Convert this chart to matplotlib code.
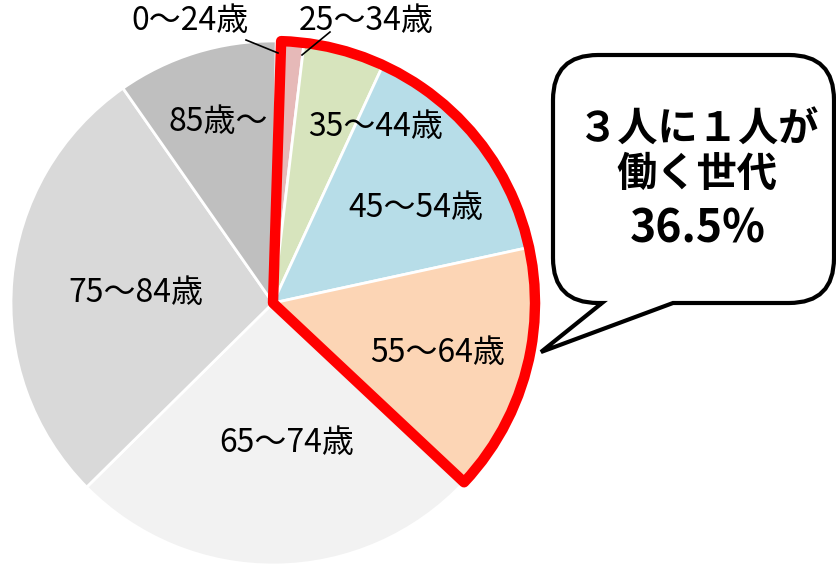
import matplotlib.pyplot as plt
from matplotlib.patches import Wedge, PathPatch
from matplotlib.path import Path

plt.rcParams['font.family'] = ['Noto Sans CJK JP', 'DejaVu Sans']

# age groups and share of population (%)
groups = ['0～24歳', '25～34歳', '35～44歳', '45～54歳', '55～64歳', '65～74歳', '75～84歳', '85歳～']
shares = [0.3, 1.4, 5.0, 14.7, 15.4, 25.6, 27.7, 9.9]
colors = ['#F2DCDB', '#E6B9B8', '#D7E4BD', '#B7DDE8', '#FCD5B5', '#F2F2F2', '#D9D9D9', '#BFBFBF']
working = ['25～34歳', '35～44歳', '45～54歳', '55～64歳']  # outlined in red
callout = ['３人に１人が', '働く世代', '36.5%']

H = 571
fig = plt.figure(figsize=(8.37, 5.71), dpi=100)
ax = fig.add_axes([0, 0, 1, 1])

cx, cy, r = 273, H - 303, 262
ax.pie(shares, colors=colors, startangle=89.3, counterclock=False,
       center=(cx, cy), radius=r, frame=True,
       wedgeprops=dict(edgecolor='white', linewidth=2))
ax.set_xlim(0, 837)
ax.set_ylim(0, H)
ax.set_aspect('equal')
ax.axis('off')

# red outline around the working-age slices
i0 = groups.index(working[0])
i1 = groups.index(working[-1])
start = sum(shares[:i0]) * 3.6
end = sum(shares[:i1 + 1]) * 3.6
ax.add_patch(Wedge((cx, cy), r, 89.3 - end, 89.3 - start, fill=False,
                   edgecolor='#FF0000', linewidth=7.5, joinstyle='round', zorder=5))

# slice labels
label_pos = {
    '0～24歳': (190, 21), '25～34歳': (366, 21), '35～44歳': (376, 127),
    '45～54歳': (416, 208), '55～64歳': (438, 353), '65～74歳': (287, 443),
    '75～84歳': (136, 293), '85歳～': (218, 122),
}
for g in groups:
    x, y = label_pos[g]
    ax.text(x, H - y, g, ha='center', va='center', fontsize=23, color='black', zorder=6)

ax.plot([246, 278], [H - 40, H - 53], color='black', lw=1.2, zorder=6)
ax.plot([330, 302], [H - 32, H - 55], color='black', lw=1.2, zorder=6)

# speech bubble
L, R, T, B, rc = 553, 834, H - 55, H - 303, 45
verts = [
    (L + rc, T), (R - rc, T), (R, T), (R, T - rc), (R, B + rc), (R, B), (R - rc, B),
    (673, B), (541, H - 352), (602, B), (L + rc, B), (L, B), (L, B + rc),
    (L, T - rc), (L, T), (L + rc, T), (L + rc, T),
]
codes = [Path.MOVETO, Path.LINETO, Path.CURVE3, Path.CURVE3, Path.LINETO, Path.CURVE3, Path.CURVE3,
         Path.LINETO, Path.LINETO, Path.LINETO, Path.LINETO, Path.CURVE3, Path.CURVE3,
         Path.LINETO, Path.CURVE3, Path.CURVE3, Path.CLOSEPOLY]
ax.add_patch(PathPatch(Path(verts, codes), facecolor='white', edgecolor='black',
                       linewidth=3, joinstyle='miter', zorder=4))

ax.text(698, H - 130, callout[0], ha='center', va='center', fontsize=29, fontweight='bold', zorder=6)
ax.text(697, H - 174, callout[1], ha='center', va='center', fontsize=29, fontweight='bold', zorder=6)
ax.text(698, H - 230, callout[2], ha='center', va='center', fontsize=32, fontweight='bold', zorder=6)

fig.savefig('out.png', dpi=100)
